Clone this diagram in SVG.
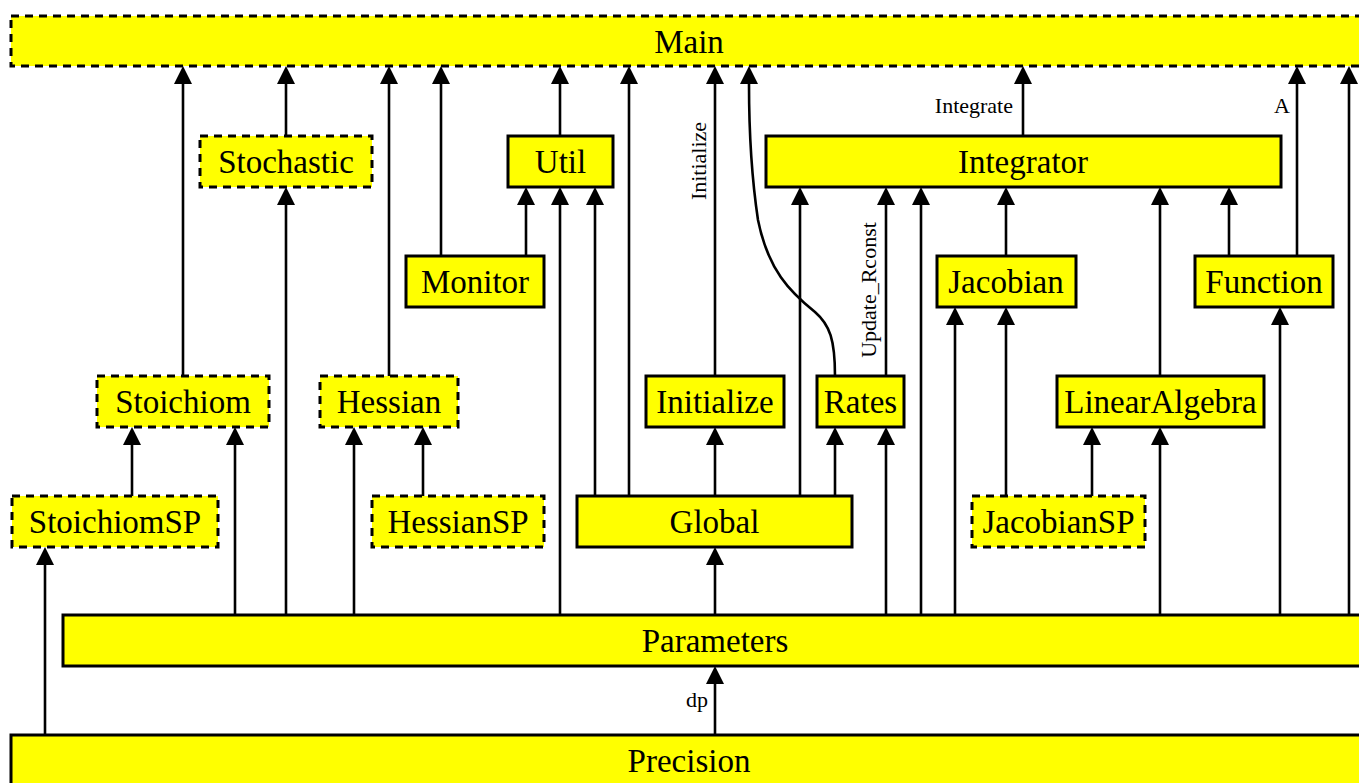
<svg xmlns="http://www.w3.org/2000/svg" width="1359" height="783" viewBox="0 0 1359 783">
<style>
.n rect{fill:#ffff00;stroke:#000;stroke-width:3}
.d rect{stroke-dasharray:8,6}
.n text{font-family:"Liberation Serif","Times New Roman",serif;font-size:33px;text-anchor:middle;fill:#000}
.e path{fill:none;stroke:#000;stroke-width:2.6;marker-end:url(#ah)}
.lbl{font-family:"Liberation Serif","Times New Roman",serif;font-size:22px;fill:#000}
</style>
<defs>
<marker id="ah" markerUnits="userSpaceOnUse" markerWidth="18" markerHeight="18" viewBox="0 0 18 18" refX="0" refY="9" orient="auto">
<path d="M0,0 L18,9 L0,18 z" fill="#000"/>
</marker>
</defs>
<rect width="1359" height="783" fill="#fff"/>
<g id="connectors" class="e">
<path d="M183,376 V84"/>
<path d="M286,136 V84"/>
<path d="M389,376 V84"/>
<path d="M441,256 V84"/>
<path d="M560,136 V84"/>
<path d="M629,496 V84"/>
<path d="M715,376 V84"/>
<path d="M835,376 C835,340 830,325 815,312 C790,292 768,270 758,220 C752,180 749,130 749,84"/>
<path d="M1023,136 V84"/>
<path d="M1297,256 V84"/>
<path d="M1349,615 V84"/>
<path d="M526,256 V205"/>
<path d="M560,615 V205"/>
<path d="M595,496 V205"/>
<path d="M286,615 V205"/>
<path d="M800,496 V205"/>
<path d="M886,376 V205"/>
<path d="M921,615 V205"/>
<path d="M1006,256 V205"/>
<path d="M1160,376 V205"/>
<path d="M1229,256 V205"/>
<path d="M955,615 V325"/>
<path d="M1006,496 V325"/>
<path d="M1280,615 V325"/>
<path d="M132,496 V445"/>
<path d="M235,615 V445"/>
<path d="M354,615 V445"/>
<path d="M423,496 V445"/>
<path d="M715,496 V445"/>
<path d="M835,496 V445"/>
<path d="M886,615 V445"/>
<path d="M1092,496 V445"/>
<path d="M1160,615 V445"/>
<path d="M715,615 V565"/>
<path d="M45,735 V565"/>
<path d="M715,735 V684"/>
<text class="lbl" transform="translate(706,161) rotate(-90)" text-anchor="middle">Initialize</text>
<text class="lbl" x="1013" y="113" text-anchor="end">Integrate</text>
<text class="lbl" x="1290" y="113" text-anchor="end">A</text>
<text class="lbl" transform="translate(876,290) rotate(-90)" text-anchor="middle">Update_Rconst</text>
<text class="lbl" x="708" y="707" text-anchor="end">dp</text>
</g>
<g id="Main" class="n d"><rect x="11" y="16" width="1356" height="50"/><text x="689" y="53">Main</text></g>
<g id="Stochastic" class="n d"><rect x="200" y="136" width="172" height="51"/><text x="286" y="173">Stochastic</text></g>
<g id="Util" class="n"><rect x="508" y="136" width="105" height="51"/><text x="560.5" y="173">Util</text></g>
<g id="Integrator" class="n"><rect x="766" y="136" width="515" height="51"/><text x="1023" y="173">Integrator</text></g>
<g id="Monitor" class="n"><rect x="406" y="256" width="138" height="51"/><text x="475" y="293">Monitor</text></g>
<g id="Jacobian" class="n"><rect x="937" y="256" width="139" height="51"/><text x="1006" y="293">Jacobian</text></g>
<g id="Function" class="n"><rect x="1195" y="256" width="138" height="51"/><text x="1264" y="293">Function</text></g>
<g id="Stoichiom" class="n d"><rect x="97" y="376" width="172" height="51"/><text x="183" y="413">Stoichiom</text></g>
<g id="Hessian" class="n d"><rect x="320" y="376" width="138" height="51"/><text x="389" y="413">Hessian</text></g>
<g id="Initialize" class="n"><rect x="646" y="376" width="138" height="51"/><text x="715" y="413">Initialize</text></g>
<g id="Rates" class="n"><rect x="817" y="376" width="87" height="51"/><text x="860.5" y="413">Rates</text></g>
<g id="LinearAlgebra" class="n"><rect x="1057" y="376" width="207" height="51"/><text x="1160.5" y="413">LinearAlgebra</text></g>
<g id="StoichiomSP" class="n d"><rect x="12" y="496" width="206" height="51"/><text x="115" y="533">StoichiomSP</text></g>
<g id="HessianSP" class="n d"><rect x="372" y="496" width="172" height="51"/><text x="458" y="533">HessianSP</text></g>
<g id="Global" class="n"><rect x="577" y="496" width="275" height="51"/><text x="714.5" y="533">Global</text></g>
<g id="JacobianSP" class="n d"><rect x="972" y="496" width="173" height="51"/><text x="1058.5" y="533">JacobianSP</text></g>
<g id="Parameters" class="n"><rect x="63" y="615" width="1304" height="51"/><text x="715" y="652">Parameters</text></g>
<g id="Precision" class="n"><rect x="11" y="735" width="1356" height="52"/><text x="689" y="772">Precision</text></g>
</svg>
